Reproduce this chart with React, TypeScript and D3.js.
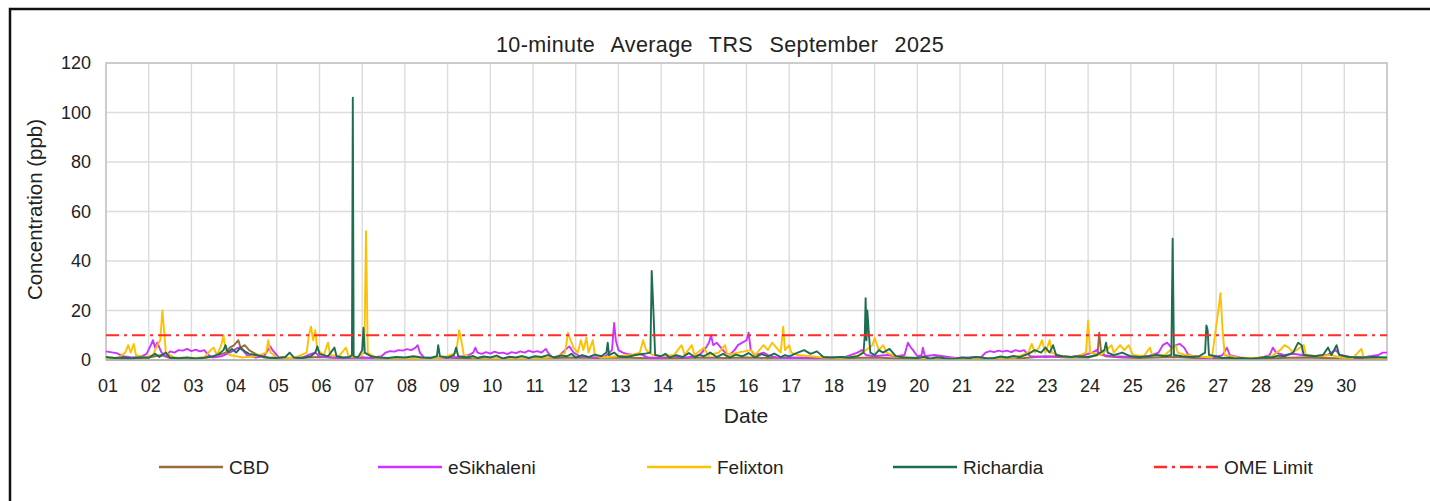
import React from "react";
import * as d3 from "d3";

// ---- data (day-of-month as fractional time, value in ppb) ----
const xTickLabels = ["01","02","03","04","05","06","07","08","09","10","11","12","13","14","15","16","17","18","19","20","21","22","23","24","25","26","27","28","29","30"];
const yTicks = [0, 20, 40, 60, 80, 100, 120];
const omeLimit = 10;

const cbd: [number, number][] = [[1.0,0.8],[1.5,0.5],[2.0,1],[2.3,2],[2.5,0.8],[3.0,0.6],[3.5,1.2],[3.8,3],[3.9,5],[4.0,6],[4.1,8],[4.15,5],[4.25,6],[4.35,4],[4.5,2.5],[4.7,1],[5.0,0.6],[5.5,0.8],[6.0,1.2],[6.5,0.8],[7.0,1],[7.5,0.5],[8.0,0.6],[8.5,0.8],[9.0,1],[9.5,0.5],[10.0,0.6],[10.5,0.4],[11.0,0.6],[11.5,0.8],[12.0,1],[12.5,0.8],[13.0,1],[13.5,0.8],[14.0,0.6],[14.5,0.8],[15.0,1],[15.5,0.8],[16.0,1],[16.5,0.8],[17.0,1],[17.5,0.6],[18.0,0.5],[18.5,0.8],[19.0,1],[19.5,0.6],[20.0,0.4],[20.5,0.3],[21.0,0.5],[21.5,0.4],[22.0,0.6],[22.5,0.8],[23.0,1.5],[23.5,1],[24.0,1],[24.22,2],[24.26,11],[24.3,4],[24.4,1.5],[24.8,1],[25.2,0.8],[25.6,1],[26.0,1.2],[26.5,0.8],[27.0,0.6],[27.5,0.5],[28.0,0.4],[28.5,0.8],[29.0,1],[29.5,0.8],[30.0,0.6],[30.5,0.5],[31.0,0.6]];

const esikhaleni: [number, number][] = [[1.0,3.5],[1.1,3.2],[1.25,2.8],[1.4,1.5],[1.6,1],[1.8,1.2],[1.95,2.5],[2.05,6],[2.1,8],[2.15,5],[2.2,7],[2.3,3],[2.4,1.5],[2.5,3.5],[2.6,3],[2.7,4],[2.8,3.8],[2.9,4.5],[3.0,3.6],[3.1,4.2],[3.2,3.5],[3.3,4],[3.4,2],[3.5,1],[3.7,1.5],[3.9,3],[4.0,4],[4.1,5],[4.2,4],[4.3,2],[4.5,1],[4.7,1.5],[4.85,5.5],[4.9,4],[4.95,3],[5.05,1],[5.3,0.8],[5.6,1],[5.8,2.5],[5.9,3],[6.0,1.5],[6.3,1],[6.6,0.8],[6.9,1],[7.2,0.8],[7.45,1.5],[7.55,3],[7.65,3.6],[7.75,3.4],[7.85,4],[7.95,3.8],[8.05,4.4],[8.15,4],[8.25,5],[8.3,6],[8.35,3],[8.45,1],[8.7,0.8],[9.0,1],[9.3,1.2],[9.5,2],[9.6,3],[9.65,5],[9.7,3],[9.8,2.5],[9.9,3.2],[10.0,2.6],[10.1,3.4],[10.2,2.8],[10.3,3],[10.4,2.4],[10.5,3.2],[10.6,2.8],[10.7,3.5],[10.8,3],[10.9,3.8],[11.0,3.2],[11.1,3.6],[11.2,3],[11.3,4.5],[11.35,3],[11.45,1],[11.6,1.5],[11.75,4],[11.85,5.5],[11.95,3],[12.1,1.5],[12.4,1],[12.7,1.5],[12.85,4],[12.9,15],[12.94,8],[13.0,4],[13.1,3],[13.2,2.5],[13.35,2],[13.5,2.5],[13.7,1],[14.0,0.8],[14.3,1.5],[14.6,1],[14.9,2],[15.05,5],[15.12,7],[15.17,10],[15.22,6],[15.3,7],[15.4,5],[15.5,3],[15.6,2],[15.72,4],[15.8,6],[15.9,7],[16.0,8],[16.05,11],[16.1,4],[16.2,2],[16.4,3],[16.5,2],[16.7,1],[17.0,0.8],[17.3,1],[17.6,0.8],[18.0,1],[18.3,1.2],[18.6,3],[18.7,4],[18.8,2],[19.0,1.5],[19.3,2],[19.5,1.5],[19.7,2],[19.78,7],[19.85,5],[19.9,4],[20.0,1.5],[20.1,2],[20.13,5],[20.18,1.5],[20.4,2],[20.6,1.5],[20.9,0.8],[21.2,1],[21.5,1.2],[21.6,3],[21.7,3.6],[21.8,3.2],[21.9,3.8],[22.0,3.4],[22.1,3.8],[22.2,3.2],[22.3,4],[22.4,3.5],[22.5,4],[22.55,3],[22.65,1.5],[23.0,1.2],[23.3,1.5],[23.6,1.2],[23.9,2],[24.1,3],[24.2,4],[24.3,2],[24.6,1.5],[25.0,1.2],[25.4,1.5],[25.65,3],[25.75,6],[25.85,7],[25.95,5],[26.05,6],[26.15,6.5],[26.25,5],[26.35,2],[26.6,1],[26.9,0.8],[27.15,2],[27.25,5],[27.32,2],[27.6,0.8],[28.0,0.6],[28.25,2],[28.33,5],[28.4,3],[28.6,2],[28.8,2.5],[29.0,2],[29.3,1.5],[29.6,2],[29.8,4],[29.9,2],[30.2,1],[30.5,1.2],[30.8,2],[30.9,3],[31.0,3]];

const felixton: [number, number][] = [[1.0,0.8],[1.3,1],[1.45,3],[1.52,6],[1.58,3],[1.65,6.5],[1.7,2],[1.9,1],[2.1,2],[2.2,6],[2.27,8],[2.32,20],[2.36,12],[2.4,3],[2.6,1],[3.0,0.8],[3.3,1],[3.45,4],[3.52,5],[3.6,2],[3.7,6],[3.75,10],[3.8,4],[3.9,2],[4.2,1],[4.5,1.5],[4.75,3],[4.8,8],[4.85,3],[5.0,1],[5.4,0.8],[5.7,3],[5.75,10],[5.8,13.5],[5.85,8],[5.9,12],[5.95,4],[6.1,2],[6.2,7],[6.25,2],[6.45,1.5],[6.62,5],[6.68,1.5],[6.9,1],[7.05,3],[7.09,52],[7.13,3],[7.3,1],[7.7,0.6],[8.1,0.8],[8.5,0.6],[8.9,1],[9.2,3],[9.27,12],[9.32,8],[9.38,2],[9.6,1],[10.0,0.8],[10.5,0.6],[11.0,0.8],[11.5,1],[11.75,3],[11.82,11],[11.88,8],[11.95,5],[12.05,3],[12.12,8],[12.18,4],[12.25,9],[12.3,3],[12.4,8],[12.45,2],[12.6,1],[13.0,1.5],[13.3,2],[13.5,3],[13.58,8],[13.65,4],[13.8,2],[14.0,1.5],[14.3,2],[14.48,6],[14.55,2],[14.72,6],[14.78,2],[15.0,5],[15.1,2],[15.35,3],[15.5,6],[15.55,2],[15.8,3],[16.1,4],[16.2,2],[16.4,6],[16.5,4],[16.6,7],[16.7,5],[16.8,3],[16.86,13.5],[16.9,4],[17.0,6],[17.05,3],[17.2,2],[17.5,1.5],[17.8,1],[18.2,0.8],[18.6,1.5],[18.95,6],[19.0,9],[19.1,4],[19.2,6],[19.28,3],[19.5,1.5],[19.8,1],[20.3,0.6],[20.8,0.5],[21.3,0.6],[21.8,0.8],[22.3,1],[22.6,3],[22.68,6.5],[22.75,3],[22.85,5],[22.92,8],[23.0,3],[23.1,8],[23.15,3],[23.4,1.5],[23.7,1],[23.95,3],[24.0,16],[24.05,3],[24.3,2],[24.55,6],[24.6,3],[24.75,6],[24.85,4],[24.95,6],[25.05,2],[25.3,1.5],[25.45,5],[25.5,2],[25.8,2],[26.05,6],[26.1,3],[26.3,2],[26.5,1.5],[26.9,1],[27.05,20],[27.1,27],[27.15,12],[27.2,2],[27.5,1],[27.9,0.8],[28.3,1.5],[28.5,4],[28.6,6],[28.7,5],[28.8,3],[29.05,6],[29.1,2],[29.4,1.5],[29.7,2],[29.9,1],[30.2,0.8],[30.4,4.5],[30.45,1],[30.8,0.8],[31.0,0.6]];

const richardia: [number, number][] = [[1.0,1.2],[1.2,0.8],[1.4,1.0],[1.6,0.6],[1.8,1.1],[2.0,0.9],[2.15,2.5],[2.25,1.2],[2.4,3],[2.5,1.0],[2.7,0.7],[2.9,1.0],[3.1,0.6],[3.3,0.9],[3.5,1.5],[3.65,2.5],[3.75,4],[3.8,6],[3.85,3],[3.95,4.5],[4.05,3],[4.15,5],[4.25,3.5],[4.35,2.5],[4.5,2],[4.65,1.5],[4.8,1.0],[5.0,0.8],[5.2,1.2],[5.3,3],[5.4,1],[5.6,0.8],[5.8,1.5],[5.9,3],[5.95,5.5],[6.0,2.5],[6.1,2],[6.2,1.5],[6.35,5],[6.4,1.5],[6.55,1],[6.7,1.2],[6.76,2],[6.78,106],[6.80,1.5],[6.9,1],[7.0,4],[7.03,13],[7.06,3],[7.2,1.5],[7.4,1],[7.6,0.8],[7.8,1.2],[8.0,1],[8.2,1.5],[8.4,1],[8.6,0.8],[8.75,1.5],[8.78,6],[8.82,1.5],[9.0,1],[9.15,2],[9.2,5],[9.25,1.5],[9.45,1],[9.6,1.6],[9.7,0.8],[9.85,1.4],[10.0,1],[10.15,1.8],[10.3,0.6],[10.45,1.3],[10.6,1],[10.75,1.6],[10.9,0.8],[11.05,1.5],[11.2,1.2],[11.35,2],[11.5,1],[11.65,1.8],[11.8,1.5],[11.9,2.5],[12.0,1],[12.15,2],[12.3,1.2],[12.45,2.2],[12.6,1.5],[12.72,3],[12.75,7],[12.78,2],[12.9,3],[13.0,1.5],[13.2,1.2],[13.4,2],[13.6,2.5],[13.75,3],[13.78,36],[13.82,20],[13.86,2],[14.0,1.5],[14.1,2.5],[14.2,1],[14.35,2],[14.5,1.2],[14.65,2.8],[14.8,1],[14.9,2.2],[15.0,1.5],[15.15,3],[15.3,1.2],[15.45,2.5],[15.6,1],[15.75,2.2],[15.9,1.5],[16.05,2.8],[16.2,1],[16.35,2.4],[16.5,1.5],[16.65,2.6],[16.8,1.2],[16.9,2],[17.0,1.5],[17.2,3],[17.35,4],[17.5,2.5],[17.65,3.5],[17.8,1.2],[18.0,1],[18.2,1.2],[18.4,1],[18.6,1.5],[18.74,3],[18.77,10],[18.79,25],[18.81,8],[18.83,20],[18.86,12],[18.9,3],[19.0,2],[19.1,4],[19.2,3],[19.35,4.5],[19.5,1.5],[19.7,1],[20.0,0.8],[20.15,1.3],[20.3,0.5],[20.45,1.1],[20.6,0.8],[20.75,0.4],[20.9,0.5],[21.05,1],[21.2,0.7],[21.35,1.2],[21.5,1],[21.65,0.6],[21.8,0.8],[21.95,1.4],[22.1,1],[22.25,1.6],[22.4,1.2],[22.6,2.5],[22.75,4],[22.9,3],[23.0,5],[23.1,3],[23.18,6],[23.25,2],[23.4,1.5],[23.6,1.2],[23.8,1.5],[24.0,1.2],[24.2,2],[24.38,4],[24.42,7],[24.46,3],[24.6,2],[24.8,3],[25.0,1.5],[25.2,1.2],[25.4,1.5],[25.6,2],[25.8,1.5],[25.95,2],[25.98,49],[26.01,2],[26.2,1.5],[26.4,1.2],[26.6,1.5],[26.74,3],[26.77,14],[26.80,12],[26.83,2],[27.0,1.5],[27.15,0.8],[27.3,1],[27.45,0.6],[27.6,0.8],[27.8,0.5],[28.0,0.8],[28.15,1.2],[28.3,1],[28.45,1.8],[28.6,1.5],[28.8,3],[28.92,7],[29.0,6],[29.05,2],[29.3,1.5],[29.5,2],[29.62,5],[29.7,2],[29.82,6],[29.88,2],[30.1,1.2],[30.4,1],[30.7,1.2],[31.0,1]];

const seriesNames = ["CBD", "eSikhaleni", "Felixton", "Richardia"];
const seriesColors = ["#9a6a3c", "#cc33ff", "#ffc000", "#1d6e4e"];
const seriesData = [cbd, esikhaleni, felixton, richardia];

const FONT = "'Liberation Sans', Arial, sans-serif";

export default function App() {
  const W = 1430, H = 501;
  const left = 106, right = 1387, top = 63, bottom = 360;
  const x = d3.scaleLinear().domain([1, 31]).range([left, right]);
  const y = d3.scaleLinear().domain([0, 120]).range([bottom, top]);
  const line = d3.line<[number, number]>().x(d => x(d[0])).y(d => y(d[1]));
  const gridDays = d3.range(1, 32);

  const legendItems = [
    { name: "CBD", color: seriesColors[0], x0: 159, dash: "" },
    { name: "eSikhaleni", color: seriesColors[1], x0: 378, dash: "" },
    { name: "Felixton", color: seriesColors[2], x0: 647, dash: "" },
    { name: "Richardia", color: seriesColors[3], x0: 893, dash: "" },
    { name: "OME Limit", color: "#ff2a2a", x0: 1154, dash: "13 5 3 5" },
  ];

  return (
    <div style={{ position: "absolute", left: 0, top: 0 }}>
      <svg width={W} height={H} style={{ display: "block", background: "#fff" }} fontFamily={FONT}>
        <path d="M10,540 L10,9 L1460,9" fill="none" stroke="#111" strokeWidth={2.5} />
        {/* grid */}
        {yTicks.map(t => (
          <line key={"gy" + t} x1={left} x2={right} y1={y(t)} y2={y(t)} stroke="#dcdcdc" strokeWidth={1.4} />
        ))}
        {gridDays.map(d => (
          <line key={"gx" + d} x1={x(d)} x2={x(d)} y1={top} y2={bottom} stroke="#dcdcdc" strokeWidth={1.4} />
        ))}
        <rect x={left} y={top} width={right - left} height={bottom - top} fill="none" stroke="#c4c4c4" strokeWidth={1.5} />
        {/* series */}
        {seriesData.map((s, i) => (
          <path key={seriesNames[i]} d={line(s) || ""} fill="none" stroke={seriesColors[i]} strokeWidth={1.9} strokeLinejoin="round" />
        ))}
        <line x1={left} x2={right} y1={y(omeLimit)} y2={y(omeLimit)} stroke="#ff2a2a" strokeWidth={2.2} strokeDasharray="13 5 3 5" />
        <line x1={left} x2={right} y1={bottom} y2={bottom} stroke="#b0b0b0" strokeWidth={1.5} />
        {/* y ticks */}
        {yTicks.map(t => (
          <text key={"yt" + t} x={91} y={y(t)} dy="0.35em" textAnchor="end" fontSize={18} fill="#222">{t}</text>
        ))}
        {/* x ticks */}
        {xTickLabels.map((lab, i) => (
          <text key={"xt" + lab} x={x(i + 1) + 2} y={392} textAnchor="middle" fontSize={18} fill="#222">{lab}</text>
        ))}
        <text x={720} y={52} textAnchor="middle" fontSize={21.5} fill="#222" style={{ wordSpacing: "10px", letterSpacing: "0.4px" }}>10-minute Average TRS September 2025</text>
        <text x={746} y={423} textAnchor="middle" fontSize={21} fill="#222">Date</text>
        <text transform={`translate(42,${(top + bottom) / 2 - 2}) rotate(-90)`} textAnchor="middle" fontSize={20.5} fill="#222">Concentration (ppb)</text>
        {/* legend */}
        {legendItems.map(it => (
          <g key={it.name}>
            <line x1={it.x0} x2={it.x0 + 64} y1={467} y2={467} stroke={it.color} strokeWidth={2.5} strokeDasharray={it.dash || undefined} />
            <text x={it.x0 + 70} y={467} dy="0.35em" fontSize={19} fill="#222">{it.name}</text>
          </g>
        ))}
      </svg>
    </div>
  );
}
